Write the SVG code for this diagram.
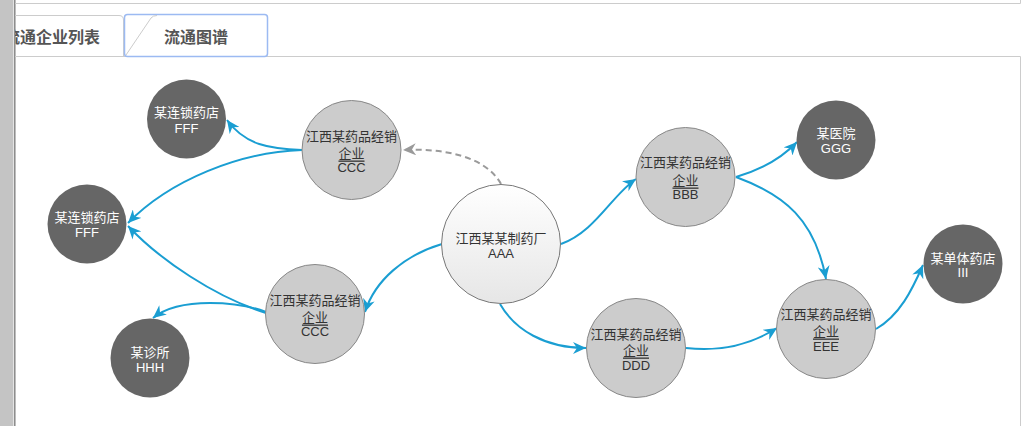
<svg xmlns="http://www.w3.org/2000/svg" width="1031" height="426" viewBox="0 0 1031 426">
<style>
.t{font-family:"Liberation Sans","Noto Sans CJK SC",sans-serif;font-size:13px;text-anchor:middle;dominant-baseline:central}
.dk{fill:#fff}
.lt{fill:#333}
.dn{fill:#666}
.gn{fill:#ccc;stroke:#888;stroke-width:1}
.tab{font-family:"Noto Sans CJK SC","Liberation Sans",sans-serif;font-size:16px;font-weight:bold;fill:#555;dominant-baseline:central}
.e{fill:none;stroke:#1a9ed2;stroke-width:2;marker-end:url(#ab)}
.ed{fill:none;stroke:#9a9a9a;stroke-width:2;stroke-dasharray:6,4;marker-end:url(#ag)}
</style>
<defs>
<linearGradient id="cg" x1="0" y1="0" x2="0" y2="1">
<stop offset="0" stop-color="#ffffff"/>
<stop offset="1" stop-color="#e6e6e6"/>
</linearGradient>
<marker id="ab" markerUnits="userSpaceOnUse" markerWidth="14" markerHeight="12" refX="13" refY="6" orient="auto">
<path d="M0,0 L13,6 L0,12 L4,6 Z" fill="#1a9ed2"/>
</marker>
<marker id="ag" markerUnits="userSpaceOnUse" markerWidth="14" markerHeight="12" refX="13" refY="6" orient="auto">
<path d="M0,0 L13,6 L0,12 L4,6 Z" fill="#9a9a9a"/>
</marker>
<clipPath id="tc"><rect x="15" y="0" width="110" height="60"/></clipPath>
</defs>
<rect width="1031" height="426" fill="#fff"/>
<g id="frame">
<rect x="0" y="0" width="13" height="426" fill="#c4c4c4"/>
<rect x="13" y="0" width="1" height="426" fill="#e4e4e4"/>
<line x1="14.8" y1="0" x2="14.8" y2="426" stroke="#888" stroke-width="1.5"/>
<polyline points="15,3.5 1020.5,3.5 1020.5,0" fill="none" stroke="#ccc" stroke-width="1"/>
<polyline points="15,56.5 1020.5,56.5 1020.5,426" fill="none" stroke="#ccc" stroke-width="1"/>
<path d="M15,15.5 H119 Q123.5,15.5 123.5,20 V56" fill="none" stroke="#ccc" stroke-width="1"/>
<text class="tab" x="4" y="36" clip-path="url(#tc)">流通企业列表</text>
<rect x="124.5" y="14.5" width="143" height="42" rx="3" fill="#fff" stroke="#9cbaf2" stroke-width="1.5"/>
<path d="M126,55 L151,18 Q153,15.5 157,15.5" fill="none" stroke="#ccc" stroke-width="1"/>
<text class="tab" x="196" y="36" text-anchor="middle">流通图谱</text>
</g>
<g id="connectors">
<path class="ed" d="M501,184 C485,155 440,148 403,150"/>
<path class="e" d="M302,150 C270,149 245,145 227,120"/>
<path class="e" d="M302,150 C240,152 170,180 128,223"/>
<path class="e" d="M266,313 C215,297 160,260 128,226"/>
<path class="e" d="M266,312 C240,302 180,296 153,318"/>
<path class="e" d="M442,244 C405,255 375,280 365,312"/>
<path class="e" d="M561,244 C595,232 612,195 636,179"/>
<path class="e" d="M500,304 C515,330 545,348 586,348"/>
<path class="e" d="M736,177 C760,170 780,160 797,142"/>
<path class="e" d="M736,177 C785,195 815,220 826,279"/>
<path class="e" d="M686,348 C720,352 750,345 777,328"/>
<path class="e" d="M876,329 C900,315 912,290 923,265"/>
</g>
<g id="AAA">
<circle cx="501" cy="244" r="59.5" fill="url(#cg)" stroke="#777" stroke-width="1"/>
<text class="t lt" x="501" y="238">江西某某制药厂</text>
<text class="t lt" x="501" y="253">AAA</text>
</g>
<g id="CCC1">
<circle class="gn" cx="351.5" cy="150" r="49.5"/>
<text class="t lt" x="351.5" y="136">江西某药品经销</text>
<text class="t lt" x="351.5" y="153" text-decoration="underline">企业</text>
<text class="t lt" x="351.5" y="167">CCC</text>
</g>
<g id="CCC2">
<circle class="gn" cx="315" cy="314" r="49.5"/>
<text class="t lt" x="315" y="300">江西某药品经销</text>
<text class="t lt" x="315" y="317" text-decoration="underline">企业</text>
<text class="t lt" x="315" y="331">CCC</text>
</g>
<g id="BBB">
<circle class="gn" cx="685.5" cy="177" r="49.5"/>
<text class="t lt" x="685.5" y="162">江西某药品经销</text>
<text class="t lt" x="685.5" y="180" text-decoration="underline">企业</text>
<text class="t lt" x="685.5" y="194">BBB</text>
</g>
<g id="DDD">
<circle class="gn" cx="636" cy="348" r="49.5"/>
<text class="t lt" x="636" y="334">江西某药品经销</text>
<text class="t lt" x="636" y="350" text-decoration="underline">企业</text>
<text class="t lt" x="636" y="365">DDD</text>
</g>
<g id="EEE">
<circle class="gn" cx="826" cy="329" r="49.5"/>
<text class="t lt" x="826" y="314">江西某药品经销</text>
<text class="t lt" x="826" y="331" text-decoration="underline">企业</text>
<text class="t lt" x="826" y="346">EEE</text>
</g>
<g id="FFF1">
<circle class="dn" cx="186.5" cy="119" r="39.5"/>
<text class="t dk" x="186.5" y="112">某连锁药店</text>
<text class="t dk" x="186.5" y="128">FFF</text>
</g>
<g id="FFF2">
<circle class="dn" cx="87" cy="224" r="39.5"/>
<text class="t dk" x="87" y="217">某连锁药店</text>
<text class="t dk" x="87" y="232">FFF</text>
</g>
<g id="HHH">
<circle class="dn" cx="150" cy="358" r="39.5"/>
<text class="t dk" x="150" y="352">某诊所</text>
<text class="t dk" x="150" y="367">HHH</text>
</g>
<g id="GGG">
<circle class="dn" cx="836" cy="140" r="39.5"/>
<text class="t dk" x="836" y="133">某医院</text>
<text class="t dk" x="836" y="148">GGG</text>
</g>
<g id="III">
<circle class="dn" cx="963" cy="264" r="39.5"/>
<text class="t dk" x="963" y="258">某单体药店</text>
<text class="t dk" x="963" y="272">III</text>
</g>
</svg>
